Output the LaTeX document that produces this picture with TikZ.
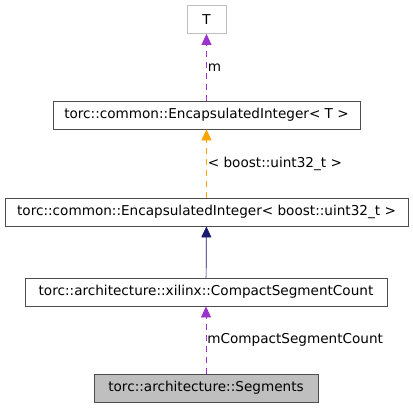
\documentclass[tikz,border=0pt]{standalone}
\usepackage{tikz}
\usetikzlibrary{positioning,arrows.meta}
\usepackage{xcolor}
\usepackage{fontspec}
\setmainfont{DejaVu Sans}
\definecolor{member}{RGB}{153,51,204}
\definecolor{tmpl}{RGB}{255,165,0}
\definecolor{inherit}{RGB}{25,25,112}
\definecolor{edgegray}{RGB}{191,191,191}
\tikzset{
  cls/.style={draw=black!70,line width=0.8pt,minimum height=28pt,inner sep=0pt,font=\fontsize{13.6}{16}\selectfont},
  lbl/.style={text=black,font=\fontsize{13.6}{16}\selectfont,inner sep=0pt,anchor=west},
  tip/.style={line width=0.7pt,-{Triangle[length=11pt,width=10pt]}},
  dashline/.style={dash pattern=on 6pt off 5pt},
}

\begin{document}
\begin{tikzpicture}[x=1pt,y=-1pt]
\useasboundingbox (0,0) rectangle (413,408);
\node [cls,draw=edgegray,minimum width=39pt] (t) at (206.5,19.5) {T};
\node [cls,minimum width=307pt] (eit) at (206.5,115) {torc::common::EncapsulatedInteger< T >};
\node [cls,minimum width=403pt] (eiu) at (206.5,212) {torc::common::EncapsulatedInteger< boost::uint32\_t >};
\node [cls,minimum width=362pt] (csc) at (206,292) {torc::architecture::xilinx::CompactSegmentCount};
\node [cls,fill=edgegray,minimum width=224pt] (seg) at (206,388) {torc::architecture::Segments};

\draw [tip,member,dashline] (eit) -- node[lbl,xshift=1pt]{m} (t);
\draw [tip,tmpl,dashline] (eiu) -- node[lbl,xshift=1pt]{< boost::uint32\_t >} (eit);
\draw [tip,inherit] (csc) -- (eiu);
\draw [tip,member,dashline] (seg) -- node[lbl,xshift=1pt]{mCompactSegmentCount} (csc);

\end{tikzpicture}
\end{document}
